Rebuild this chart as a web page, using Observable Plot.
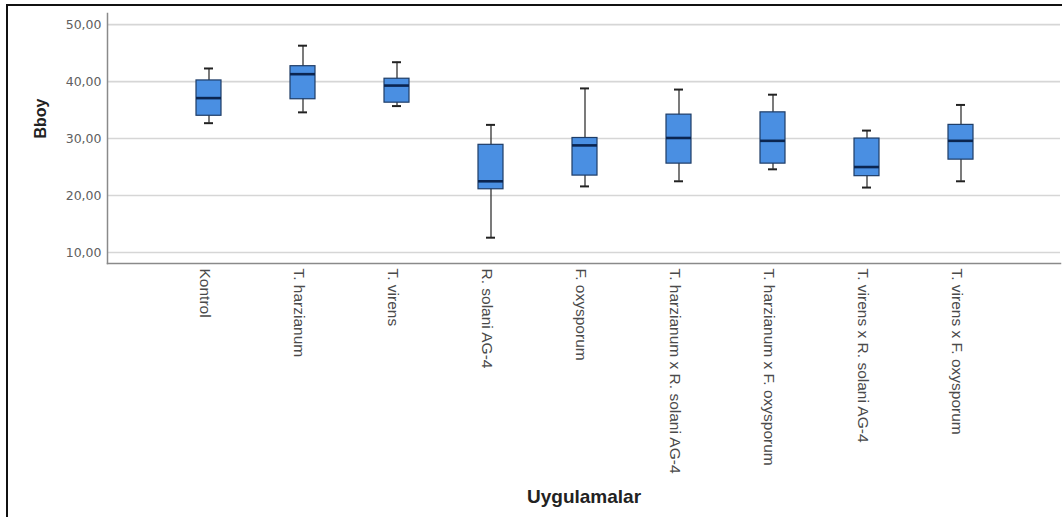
<!DOCTYPE html>
<html>
<head>
<meta charset="utf-8">
<script src="https://cdn.jsdelivr.net/npm/d3@7"></script>
<script src="https://cdn.jsdelivr.net/npm/@observablehq/plot@0.6"></script>
<style>
  html, body { margin: 0; padding: 0; background: #fff; overflow: hidden; }
  #wrap { position: relative; width: 1062px; height: 517px; overflow: hidden; }
  #border { position: absolute; left: 6px; top: 4px; width: 1200px; height: 700px;
            border-left: 2px solid #111; border-top: 2px solid #111; pointer-events: none; }
</style>
</head>
<body>
<div id="wrap"><div id="chart"></div><div id="border"></div></div>
<script>
const categories = [
  "Kontrol", "T. harzianum", "T. virens", "R. solani AG-4", "F. oxysporum",
  "T. harzianum x R. solani AG-4", "T. harzianum x F. oxysporum",
  "T. virens x R. solani AG-4", "T. virens x F. oxysporum"
];
const whiskerLow  = [32.7, 34.6, 35.7, 12.6, 21.6, 22.5, 24.6, 21.4, 22.5];
const q1          = [34.0, 36.9, 36.3, 21.1, 23.5, 25.6, 25.6, 23.4, 26.3];
const median      = [37.1, 41.3, 39.3, 22.5, 28.8, 30.1, 29.6, 25.0, 29.6];
const q3          = [40.2, 42.7, 40.5, 28.9, 30.1, 34.2, 34.6, 30.0, 32.4];
const whiskerHigh = [42.3, 46.3, 43.4, 32.4, 38.8, 38.6, 37.7, 31.4, 35.9];
const yTicks = [10, 20, 30, 40, 50];
const yLabel = "Bboy";
const xLabel = "Uygulamalar";

const data = categories.map((c, i) => ({
  cat: c, lo: whiskerLow[i], q1: q1[i], med: median[i], q3: q3[i], hi: whiskerHigh[i]
}));

const chart = Plot.plot({
  width: 1062,
  height: 517,
  marginTop: 13,
  marginBottom: 254,
  marginLeft: 107,
  marginRight: 2,
  style: { fontFamily: "Liberation Sans, Arial, sans-serif", background: "transparent" },
  x: { type: "band", domain: categories, paddingInner: 0.736, paddingOuter: 0.894, align: 0.507, axis: null },
  y: { domain: [8.07, 51.95], axis: null },
  marks: [
    Plot.gridY(yTicks, { stroke: "#d6d6d6", strokeWidth: 1.6, strokeOpacity: 1 }),
    Plot.frame({ anchor: "left", stroke: "#8a8a8a", strokeWidth: 1.5 }),
    Plot.frame({ anchor: "bottom", stroke: "#8a8a8a", strokeWidth: 1.5 }),
    Plot.axisY(yTicks, {
      tickSize: 0, tickPadding: 6, label: null,
      tickFormat: d => d.toFixed(2).replace(".", ","),
      fontFamily: "DejaVu Sans", fontSize: 12.5, fill: "#606060"
    }),
    Plot.axisX({
      tickRotate: 90, tickSize: 0, tickPadding: 5, label: null, dx: -4,
      fontSize: 15.5, fill: "#4a4a4a"
    }),
    Plot.ruleX(data, { x: "cat", y1: "lo", y2: "hi", stroke: "#333", strokeWidth: 1.3 }),
    Plot.tickY(data, { x: "cat", y: "lo", stroke: "#222", strokeWidth: 2, insetLeft: 8, insetRight: 8 }),
    Plot.tickY(data, { x: "cat", y: "hi", stroke: "#222", strokeWidth: 2, insetLeft: 8, insetRight: 8 }),
    Plot.barY(data, { x: "cat", y1: "q1", y2: "q3", fill: "#4a8fe2", stroke: "#1e3c66", strokeWidth: 1.2 }),
    Plot.tickY(data, { x: "cat", y: "med", stroke: "#0b2550", strokeWidth: 2.6 }),
    Plot.text([yLabel], { frameAnchor: "left", dx: -67, rotate: -90, fontSize: 16, fontWeight: "bold", fill: "#222", fontFamily: "Liberation Sans" }),
    Plot.text([xLabel], { frameAnchor: "bottom", dy: 239, fontSize: 19, fontWeight: "bold", fill: "#222", fontFamily: "Liberation Sans" })
  ]
});
document.getElementById("chart").appendChild(chart);
</script>
</body>
</html>
